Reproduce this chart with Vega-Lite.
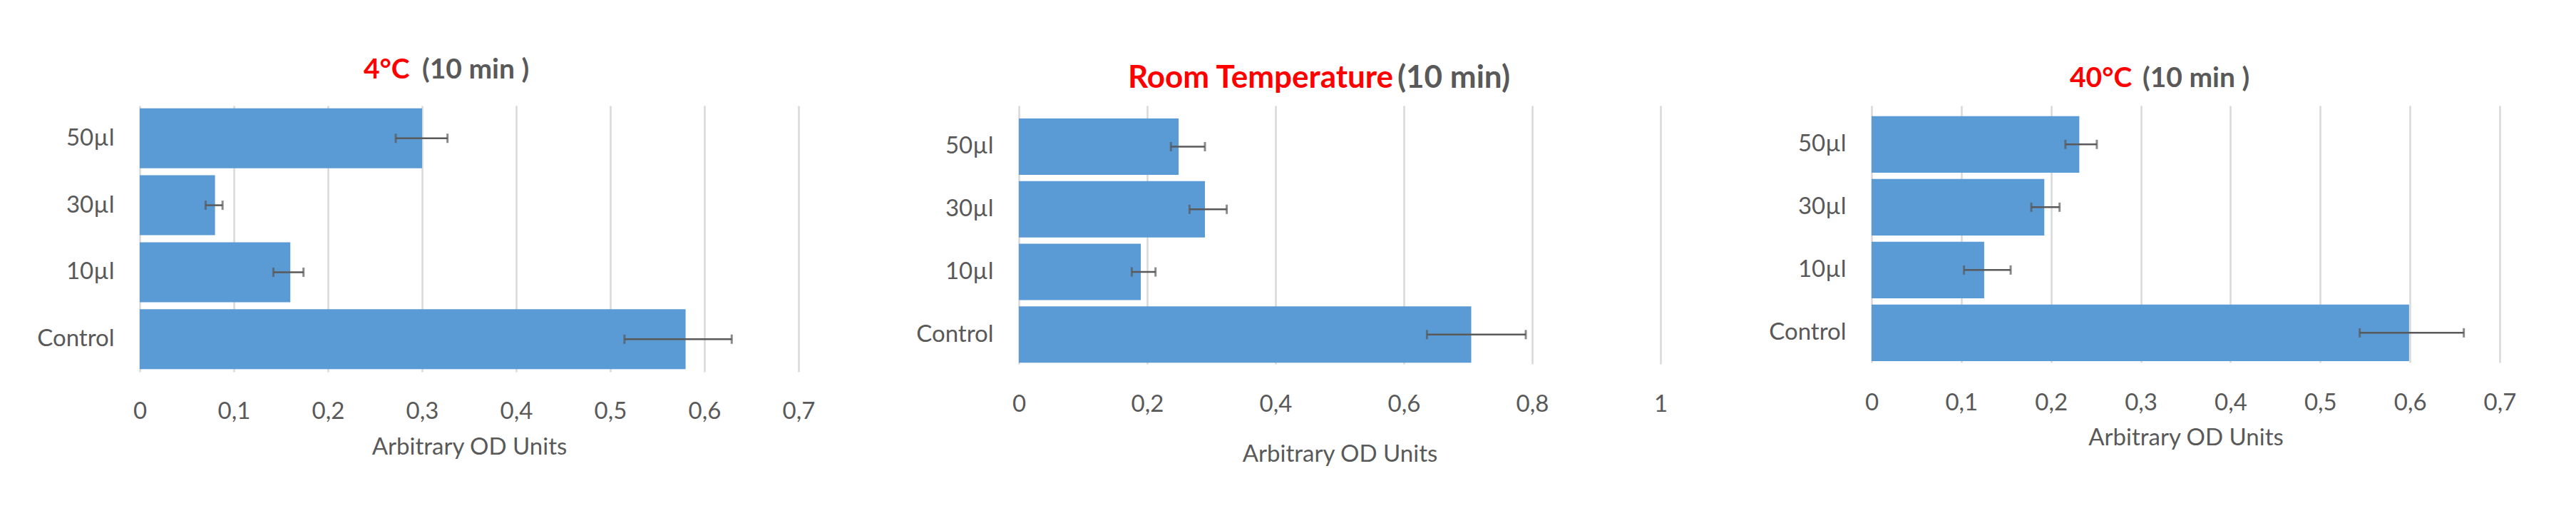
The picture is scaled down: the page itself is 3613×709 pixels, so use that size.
{
  "$schema": "https://vega.github.io/schema/vega-lite/v6.json",
  "background": "white",
  "padding": {"left": 46, "top": 79, "right": 5, "bottom": 5},
  "data": {"values": [
    {"panel": "4C", "group": "50µl", "value": 0.30, "lo": 0.272, "hi": 0.327},
    {"panel": "4C", "group": "30µl", "value": 0.08, "lo": 0.070, "hi": 0.088},
    {"panel": "4C", "group": "10µl", "value": 0.16, "lo": 0.142, "hi": 0.174},
    {"panel": "4C", "group": "Control", "value": 0.58, "lo": 0.515, "hi": 0.629},
    {"panel": "RT", "group": "50µl", "value": 0.249, "lo": 0.237, "hi": 0.290},
    {"panel": "RT", "group": "30µl", "value": 0.290, "lo": 0.266, "hi": 0.324},
    {"panel": "RT", "group": "10µl", "value": 0.190, "lo": 0.176, "hi": 0.213},
    {"panel": "RT", "group": "Control", "value": 0.705, "lo": 0.636, "hi": 0.790},
    {"panel": "40C", "group": "50µl", "value": 0.2315, "lo": 0.216, "hi": 0.251},
    {"panel": "40C", "group": "30µl", "value": 0.1925, "lo": 0.178, "hi": 0.2095},
    {"panel": "40C", "group": "10µl", "value": 0.1255, "lo": 0.103, "hi": 0.155},
    {"panel": "40C", "group": "Control", "value": 0.599, "lo": 0.544, "hi": 0.660}
  ]},
  "spacing": 136,
  "bounds": "full",
  "align": "none",
  "hconcat": [
    {
      "title": {"text": "(10 min )", "color": "#595959", "anchor": "start", "frame": "group", "dx": 396, "dy": 39, "fontSize": 39, "offset": 0},
      "vconcat": [{
        "width": 924, "height": 373,
        "title": {"text": "4°C", "anchor": "start", "frame": "group", "dx": 314, "fontSize": 39, "offset": 30},
        "transform": [{"filter": "datum.panel === '4C'"}],
        "encoding": {"y": {"field": "group", "type": "nominal", "sort": ["50µl", "30µl", "10µl", "Control"], "scale": {"paddingInner": 0.105, "paddingOuter": 0.04, "align": 0.5}, "axis": {"title": null}}},
        "layer": [
          {"mark": {"type": "bar", "color": "#5B9BD5"}, "encoding": {"x": {"field": "value", "type": "quantitative", "title": "Arbitrary OD Units", "scale": {"domain": [0, 0.7], "nice": false, "zero": true}, "axis": {"values": [0, 0.1, 0.2, 0.3, 0.4, 0.5, 0.6, 0.7], "labelPadding": 39, "titlePadding": 17}}}},
          {"mark": {"type": "rule", "color": "#595959", "strokeWidth": 2.5}, "encoding": {"x": {"field": "lo", "type": "quantitative", "title": "Arbitrary OD Units"}, "x2": {"field": "hi"}}},
          {"mark": {"type": "tick", "color": "#595959", "thickness": 3, "size": 13}, "encoding": {"x": {"field": "lo", "type": "quantitative", "title": "Arbitrary OD Units"}}},
          {"mark": {"type": "tick", "color": "#595959", "thickness": 3, "size": 13}, "encoding": {"x": {"field": "hi", "type": "quantitative", "title": "Arbitrary OD Units"}}}
        ]
      }]
    },
    {
      "title": {"text": "(10 min)", "color": "#595959", "anchor": "start", "frame": "group", "dx": 531, "dy": 44, "fontSize": 44, "offset": 0},
      "vconcat": [{
        "width": 900, "height": 362,
        "title": {"text": "Room Temperature", "anchor": "start", "frame": "group", "dx": 153, "fontSize": 44, "offset": 16},
        "transform": [{"filter": "datum.panel === 'RT'"}],
        "encoding": {"y": {"field": "group", "type": "nominal", "sort": ["50µl", "30µl", "10µl", "Control"], "scale": {"paddingInner": 0.1, "paddingOuter": 0.112, "align": 0.915}, "axis": {"title": null}}},
        "layer": [
          {"mark": {"type": "bar", "color": "#5B9BD5"}, "encoding": {"x": {"field": "value", "type": "quantitative", "title": "Arbitrary OD Units", "scale": {"domain": [0, 1], "nice": false, "zero": true}, "axis": {"values": [0, 0.2, 0.4, 0.6, 0.8, 1], "labelPadding": 40, "titlePadding": 37}}}},
          {"mark": {"type": "rule", "color": "#595959", "strokeWidth": 2.5}, "encoding": {"x": {"field": "lo", "type": "quantitative", "title": "Arbitrary OD Units"}, "x2": {"field": "hi"}}},
          {"mark": {"type": "tick", "color": "#595959", "thickness": 3, "size": 13}, "encoding": {"x": {"field": "lo", "type": "quantitative", "title": "Arbitrary OD Units"}}},
          {"mark": {"type": "tick", "color": "#595959", "thickness": 3, "size": 13}, "encoding": {"x": {"field": "hi", "type": "quantitative", "title": "Arbitrary OD Units"}}}
        ]
      }]
    },
    {
      "title": {"text": "(10 min )", "color": "#595959", "anchor": "start", "frame": "group", "dx": 380, "dy": 39, "fontSize": 39, "offset": 0},
      "vconcat": [{
        "width": 881, "height": 360,
        "title": {"text": "40°C", "anchor": "start", "frame": "group", "dx": 278, "fontSize": 39, "offset": 18},
        "transform": [{"filter": "datum.panel === '40C'"}],
        "encoding": {"y": {"field": "group", "type": "nominal", "sort": ["50µl", "30µl", "10µl", "Control"], "scale": {"paddingInner": 0.1, "paddingOuter": 0.095, "align": 0.878}, "axis": {"title": null}}},
        "layer": [
          {"mark": {"type": "bar", "color": "#5B9BD5"}, "encoding": {"x": {"field": "value", "type": "quantitative", "title": "Arbitrary OD Units", "scale": {"domain": [0, 0.7], "nice": false, "zero": true}, "axis": {"values": [0, 0.1, 0.2, 0.3, 0.4, 0.5, 0.6, 0.7], "labelPadding": 40, "titlePadding": 16}}}},
          {"mark": {"type": "rule", "color": "#595959", "strokeWidth": 2.5}, "encoding": {"x": {"field": "lo", "type": "quantitative", "title": "Arbitrary OD Units"}, "x2": {"field": "hi"}}},
          {"mark": {"type": "tick", "color": "#595959", "thickness": 3, "size": 13}, "encoding": {"x": {"field": "lo", "type": "quantitative", "title": "Arbitrary OD Units"}}},
          {"mark": {"type": "tick", "color": "#595959", "thickness": 3, "size": 13}, "encoding": {"x": {"field": "hi", "type": "quantitative", "title": "Arbitrary OD Units"}}}
        ]
      }]
    }
  ],
  "config": {
    "font": "Lato",
    "view": {"stroke": null},
    "title": {"font": "Lato", "fontWeight": "bold", "color": "#FF0000"},
    "axis": {"labelFont": "Lato", "titleFont": "Lato", "labelFontSize": 33, "titleFontSize": 33, "labelColor": "#595959", "titleColor": "#595959", "titleFontWeight": "normal", "domain": false, "ticks": false},
    "axisX": {"grid": true, "gridColor": "#d9d9d9", "gridWidth": 2.5, "labelFlush": false, "labelExpr": "replace(format(datum.value, '.1~f'), '.', ',')"},
    "axisY": {"grid": false, "labelPadding": 36, "minExtent": 150, "maxExtent": 150}
  }
}
